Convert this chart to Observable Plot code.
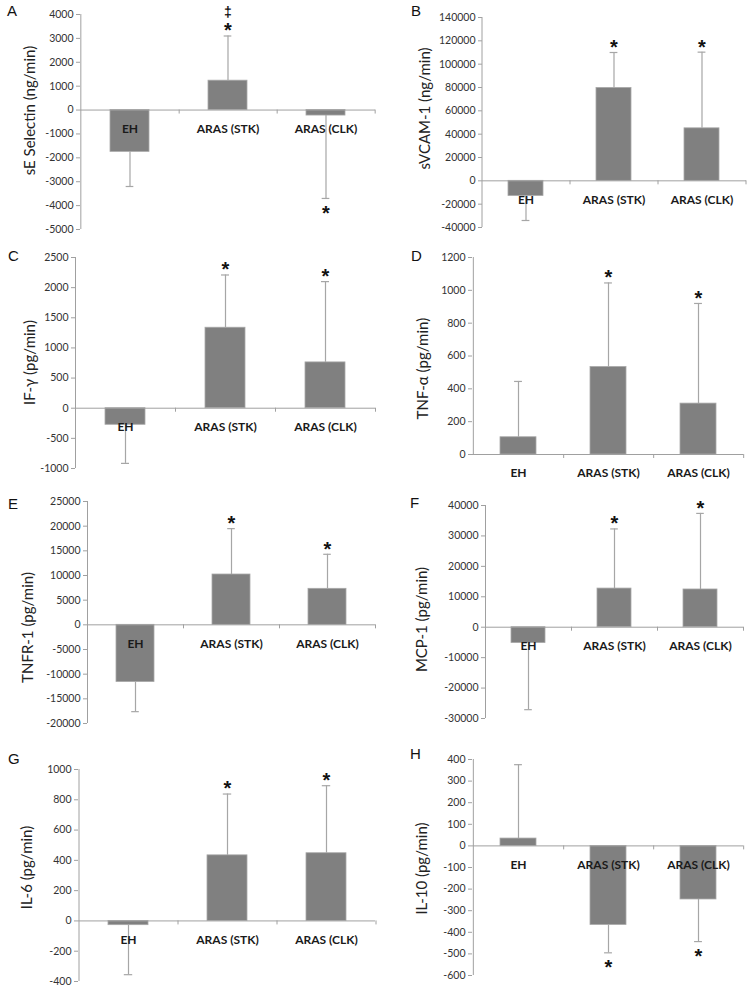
<!DOCTYPE html>
<html><head><meta charset="utf-8">
<script src="https://cdn.jsdelivr.net/npm/d3@7"></script>
<script src="https://cdn.jsdelivr.net/npm/@observablehq/plot@0.6"></script>
<style>
body{margin:0;background:#fff;}
#root{position:relative;width:750px;height:988px;overflow:hidden;background:#fff;}
.panel{position:absolute;}
.panel svg{background:transparent !important;overflow:visible;}
.letter{position:absolute;font-family:"Liberation Sans",Arial,sans-serif;font-size:15px;line-height:1;color:#111;}
</style></head><body><div id="root"></div>
<script>
// ---- data ----
const categories = ["EH", "ARAS (STK)", "ARAS (CLK)"];
const panelLetters = ["A", "B", "C", "D", "E", "F", "G", "H"];
const yLabels = ["sE Selectin (ng/min)", "sVCAM-1 (ng/min)", "IF-γ (pg/min)", "TNF-α (pg/min)",
                 "TNFR-1 (pg/min)", "MCP-1 (pg/min)", "IL-6 (pg/min)", "IL-10 (pg/min)"];
const yDomains = [[-5000, 4000], [-40000, 140000], [-1000, 2500], [0, 1200],
                  [-20000, 25000], [-30000, 40000], [-400, 1000], [-600, 400]];
const yTickSteps = [1000, 20000, 500, 200, 5000, 10000, 200, 100];

const meanA = [-1750, 1230, -230];     const errEndA = [-3200, 3100, -3700];
const meanB = [-13000, 79600, 45000];  const errEndB = [-34000, 110000, 110300];
const meanC = [-275, 1335, 760];       const errEndC = [-915, 2210, 2100];
const meanD = [105, 533, 310];         const errEndD = [445, 1045, 920];
const meanE = [-11600, 10200, 7300];   const errEndE = [-17600, 19500, 14300];
const meanF = [-5200, 12700, 12400];   const errEndF = [-27100, 32300, 37400];
const meanG = [-28, 433, 447];         const errEndG = [-355, 838, 893];
const meanH = [34, -366, -248];        const errEndH = [376, -495, -443];

const starA = [0, 1, 1]; const daggerA = [0, 1, 0];
const starB = [0, 1, 1]; const starC = [0, 1, 1]; const starD = [0, 1, 1];
const starE = [0, 1, 1]; const starF = [0, 1, 1]; const starG = [0, 1, 1]; const starH = [0, 1, 1];
const daggerNone = [0, 0, 0];

const means = [meanA, meanB, meanC, meanD, meanE, meanF, meanG, meanH];
const errEnds = [errEndA, errEndB, errEndC, errEndD, errEndE, errEndF, errEndG, errEndH];
const stars = [starA, starB, starC, starD, starE, starF, starG, starH];
const daggers = [daggerA, daggerNone, daggerNone, daggerNone, daggerNone, daggerNone, daggerNone, daggerNone];

// ---- layout (pixels) ----
const layout = [
  {left: 0,   top: 0,   bottom: 245, axisX: 80,  right: 375, yTop: 14,  yBot: 229, labelDx: -50, labelY: 110, lx: 7,   ly: 5},
  {left: 375, top: 0,   bottom: 245, axisX: 482, right: 746, yTop: 17,  yBot: 227, labelDx: -57, labelY: 108, lx: 411, ly: 5},
  {left: 0,   top: 245, bottom: 485, axisX: 75,  right: 375, yTop: 257, yBot: 468, labelDx: -45, labelY: 362, lx: 8,   ly: 250},
  {left: 375, top: 245, bottom: 485, axisX: 472, right: 743, yTop: 257, yBot: 454, labelDx: -49, labelY: 368, lx: 411, ly: 250},
  {left: 0,   top: 485, bottom: 735, axisX: 87,  right: 375, yTop: 501, yBot: 723, labelDx: -59, labelY: 627, lx: 8,   ly: 498},
  {left: 375, top: 485, bottom: 735, axisX: 485, right: 743, yTop: 505, yBot: 718, labelDx: -63, labelY: 619, lx: 410, ly: 497},
  {left: 0,   top: 735, bottom: 988, axisX: 78,  right: 375, yTop: 769, yBot: 981, labelDx: -51, labelY: 867, lx: 8,   ly: 753},
  {left: 375, top: 735, bottom: 988, axisX: 472, right: 743, yTop: 759, yBot: 975, labelDx: -50, labelY: 868, lx: 410, ly: 748}
];

const FONT = "Lato, 'Open Sans', sans-serif";
const root = document.getElementById("root");

panelLetters.forEach((letter, k) => {
  const L = layout[k];
  const W = 375, H = L.bottom - L.top;
  const ml = L.axisX - L.left, mr = L.left + W - L.right;
  const mt = L.yTop - L.top, mb = L.bottom - L.yBot;
  const step = (L.right - L.axisX) / 3;
  const bw = step * 0.4;
  const rows = categories.map((c, i) => ({cat: c, v: means[k][i], end: errEnds[k][i], star: stars[k][i], dagger: daggers[k][i]}));
  const up = rows.filter(d => d.star && d.end >= 0);
  const down = rows.filter(d => d.star && d.end < 0);
  const dag = rows.filter(d => d.dagger);
  const [d0, d1] = yDomains[k];
  const ticks = d3.range(d0, d1 + yTickSteps[k] / 2, yTickSteps[k]);
  const frameMid = (L.yTop + L.yBot) / 2;

  const chart = Plot.plot({
    width: W, height: H,
    marginLeft: ml, marginRight: mr, marginTop: mt, marginBottom: mb,
    style: {background: "transparent", fontFamily: FONT, overflow: "visible"},
    x: {type: "band", domain: categories, paddingInner: 0.6, paddingOuter: 0.3, axis: null},
    y: {domain: yDomains[k], axis: null},
    marks: [
      Plot.axisY({ticks, tickSize: 4, tickPadding: 3, tickFormat: d => String(d), stroke: "#a0a0a0", fill: "#333", fontSize: 10.5, label: null}),
      Plot.ruleX([categories[0]], {x: d => d, dx: -step / 2, stroke: "#a0a0a0"}),
      Plot.barY(rows, {x: "cat", y: "v", fill: "#808080", stroke: "#a8a8a8", strokeWidth: 0.8}),
      Plot.ruleY([0], {stroke: "#a0a0a0"}),
      Plot.ruleX(categories, {x: d => d, y1: 0, y2: 0, dx: step / 2, insetBottom: -4, stroke: "#a0a0a0"}),
      Plot.ruleX(rows, {x: "cat", y1: "v", y2: "end", stroke: "#a6a6a6", strokeWidth: 1.2}),
      Plot.tickY(rows, {x: "cat", y: "end", stroke: "#a6a6a6", strokeWidth: 1.2, insetLeft: bw / 2 - 4, insetRight: bw / 2 - 4}),
      Plot.text(rows, {x: "cat", y: () => 0, text: "cat", dy: 19, fontSize: 12, fontWeight: "bold", fill: "#1a1a1a"}),
      Plot.text(up, {x: "cat", y: "end", text: () => "*", dy: -5, fontSize: 20, fontWeight: "bold", fill: "#111", fontFamily: "'Liberation Sans', Arial, sans-serif"}),
      Plot.text(down, {x: "cat", y: "end", text: () => "*", dy: 15, fontSize: 20, fontWeight: "bold", fill: "#111", fontFamily: "'Liberation Sans', Arial, sans-serif"}),
      Plot.text(dag, {x: "cat", y: "end", text: () => "‡", dy: -23, fontSize: 14, fontWeight: "bold", fill: "#111", fontFamily: "'Liberation Sans', Arial, sans-serif"}),
      Plot.text([yLabels[k]], {frameAnchor: "left", textAnchor: "middle", text: d => d, rotate: -90, dx: L.labelDx, dy: L.labelY - frameMid, fontSize: 15, fill: "#222"})
    ]
  });
  const div = document.createElement("div");
  div.className = "panel";
  div.style.left = L.left + "px";
  div.style.top = L.top + "px";
  div.appendChild(chart);
  root.appendChild(div);

  const lt = document.createElement("div");
  lt.className = "letter";
  lt.textContent = letter;
  lt.style.left = L.lx + "px";
  lt.style.top = (L.ly - 2) + "px";
  root.appendChild(lt);
});
</script>
</body></html>
